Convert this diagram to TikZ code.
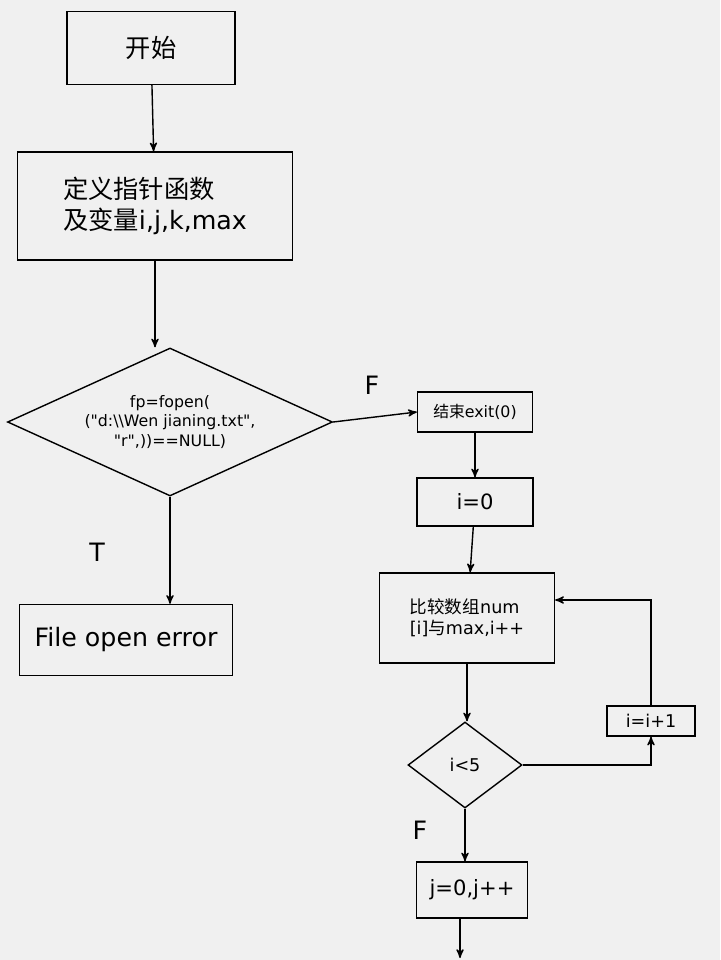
\documentclass[tikz,border=0pt]{standalone}
\usepackage{fontspec}
\setmainfont{DejaVu Sans}
\newfontfamily\cjk{Noto Sans CJK SC}
\usetikzlibrary{shapes.geometric,arrows}
\tikzset{
  box/.style={draw, thick, rectangle, align=left},
  decision/.style={draw, thick, diamond, aspect=2.2, inner sep=0pt, align=center},
  flow/.style={thick, ->, >=stealth'},
}
\newcommand{\qq}{\textquotedbl}
\begin{document}
\begin{tikzpicture}[x=0.02cm, y=-0.02cm]
      \useasboundingbox[fill=gray!12] (0,0) rectangle (720,960);
       % nodes
       \node[box, minimum width=168*0.02cm, minimum height=73*0.02cm, font=\Large] (start) at (151,48) {{\cjk 开始}};
       \node[box, minimum width=275*0.02cm, minimum height=108*0.02cm, font=\Large] (define) at (155,206) {{\cjk 定义指针函数}\\{\cjk 及变量}i,j,k,max};
       \node[decision, minimum width=325*0.02cm, minimum height=148*0.02cm, font=\small] (open) at (170,422) {fp=fopen(\\(\qq d:\textbackslash\textbackslash Wen jianing.txt\qq,\\\qq r\qq,))==NULL)};
       \node[box, minimum width=213*0.02cm, minimum height=71*0.02cm, font=\Large] (error) at (126,640) {File open error};
       \node[box, minimum width=115*0.02cm, minimum height=40*0.02cm, font=\small] (exit) at (475,412) {{\cjk 结束}exit(0)};
       \node[box, minimum width=116*0.02cm, minimum height=48*0.02cm, font=\large, align=center] (init) at (475,502) {i=0};
       \node[box, minimum width=175*0.02cm, minimum height=90*0.02cm] (compare) at (467,618) {{\cjk 比较数组}num\\{[i]}{\cjk 与}max,i++};
       \node[decision, minimum width=114*0.02cm, minimum height=86*0.02cm, aspect=1.3] (test) at (465,765) {i<5};
       \node[box, minimum width=88*0.02cm, minimum height=30*0.02cm, align=center] (incr) at (651,721) {i=i+1};
       \node[box, minimum width=111*0.02cm, minimum height=56*0.02cm, font=\large, align=center] (jset) at (472,890) {j=0,j++};
       \coordinate (bottom) at (460,958);

       % connectors
       \draw[flow] (start) -- (define);
       \draw[flow] (define.south) -- (define.south |- open.north);
       \draw[flow] (open.east) -- (exit.west);
       \draw[flow] (open.south) -- (open.south |- error.north);
       \draw[flow] (exit) -- (init);
       \draw[flow] (init) -- (compare);
       \draw[flow] (compare.south) -- (compare.south |- test.north);
       \draw[flow] (test.east) -| (incr.south);
       \draw[flow] (incr.north) |- (compare.east |- 0,600);
       \draw[flow] (test.south) -- (test.south |- jset.north);
       \draw[flow] (jset.south -| bottom) -- (bottom);

       % labels
       \node[font=\Large] (labT) at (97,552) {T};
       \node[font=\Large] (labF1) at (372,385) {F};
       \node[font=\Large] (labF2) at (420,830) {F};
\end{tikzpicture}
\end{document}
